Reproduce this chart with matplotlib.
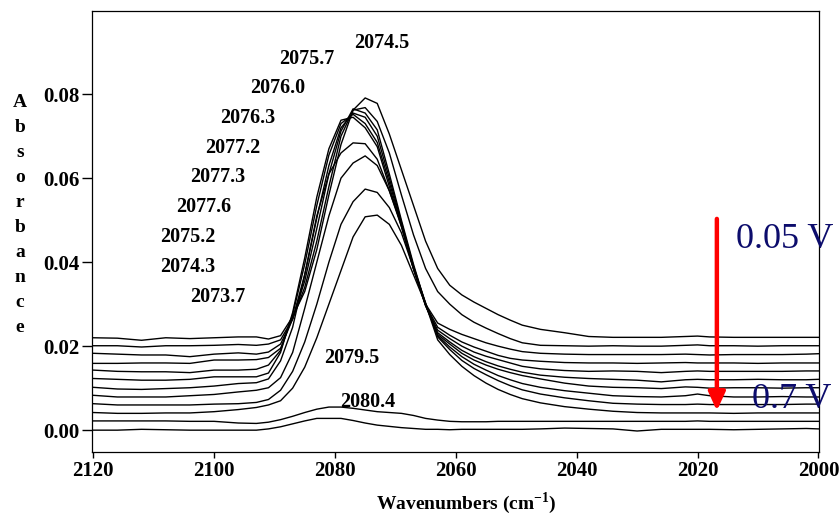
import matplotlib
matplotlib.use("Agg")
import matplotlib.pyplot as plt

# wavenumber grid (cm-1) shared by all spectra
wavenumbers = [2120, 2116, 2112, 2108, 2104, 2100, 2096, 2093, 2091, 2089,
               2087, 2085, 2083, 2081, 2079, 2077, 2075, 2073, 2071, 2069,
               2067, 2065, 2063, 2061, 2059, 2057, 2055, 2053, 2051, 2049,
               2046, 2042, 2038, 2034, 2030, 2026, 2022, 2020, 2018, 2014,
               2010, 2006, 2002, 2000]

# stacked absorbance spectra, 0.05 V (top) down to 0.7 V (bottom)
s_005 = [.0220, .0219, .0214, .0220, .0218, .0220, .0222, .0222, .0217, .0225,
         .0270, .0330, .0430, .0560, .0680, .0762, .0791, .0778, .0705, .0620,
         .0535, .0450, .0385, .0345, .0322, .0305, .0290, .0275, .0262, .0250,
         .0240, .0232, .0223, .0221, .0221, .0221, .0223, .0224, .0222, .0221,
         .0221, .0221, .0221, .0221]
s_2 = [.0201, .0201, .0198, .0201, .0201, .0202, .0204, .0202, .0205, .0215,
       .0265, .0340, .0450, .0580, .0700, .0762, .0768, .0735, .0660, .0560,
       .0465, .0385, .0330, .0300, .0275, .0257, .0243, .0230, .0218, .0208,
       .0202, .0201, .0200, .0201, .0200, .0200, .0202, .0203, .0201, .0201,
       .0200, .0201, .0201, .0201]
s_3 = [.0183, .0181, .0179, .0179, .0175, .0181, .0184, .0181, .0186, .0205,
       .0265, .0355, .0480, .0610, .0712, .0765, .0755, .0715, .0610, .0500,
       .0395, .0300, .0255, .0240, .0228, .0218, .0208, .0200, .0193, .0187,
       .0183, .0181, .0180, .0180, .0180, .0180, .0181, .0180, .0179, .0180,
       .0180, .0180, .0181, .0182]
s_4 = [.0159, .0159, .0160, .0160, .0159, .0167, .0167, .0168, .0173, .0195,
       .0265, .0370, .0505, .0630, .0720, .0755, .0745, .0700, .0600, .0495,
       .0390, .0298, .0245, .0226, .0210, .0198, .0188, .0178, .0171, .0167,
       .0164, .0161, .0160, .0160, .0159, .0160, .0161, .0160, .0160, .0160,
       .0159, .0160, .0160, .0160]
s_5 = [.0143, .0140, .0139, .0139, .0137, .0143, .0143, .0145, .0155, .0190,
       .0275, .0395, .0535, .0655, .0730, .0752, .0730, .0685, .0590, .0490,
       .0385, .0297, .0238, .0218, .0200, .0186, .0176, .0168, .0160, .0152,
       .0146, .0142, .0140, .0141, .0140, .0137, .0140, .0141, .0140, .0140,
       .0140, .0140, .0141, .0141]
s_6 = [.0123, .0121, .0119, .0119, .0121, .0127, .0127, .0127, .0136, .0185,
       .0280, .0410, .0555, .0670, .0738, .0745, .0720, .0675, .0580, .0485,
       .0383, .0296, .0232, .0210, .0190, .0175, .0163, .0153, .0145, .0138,
       .0131, .0126, .0123, .0121, .0119, .0115, .0120, .0121, .0120, .0120,
       .0121, .0120, .0120, .0121]
s_7 = [.0102, .0098, .0097, .0099, .0101, .0105, .0111, .0113, .0122, .0165,
       .0245, .0370, .0510, .0610, .0660, .0684, .0682, .0645, .0570, .0485,
       .0385, .0298, .0228, .0205, .0183, .0167, .0155, .0145, .0137, .0130,
       .0122, .0112, .0105, .0102, .0101, .0099, .0103, .0102, .0100, .0101,
       .0101, .0100, .0101, .0101]
s_8 = [.0083, .0079, .0079, .0079, .0082, .0085, .0091, .0095, .0101, .0125,
       .0185, .0290, .0400, .0510, .0600, .0636, .0653, .0630, .0570, .0490,
       .0390, .0302, .0225, .0198, .0175, .0157, .0143, .0130, .0120, .0111,
       .0102, .0094, .0088, .0082, .0080, .0079, .0082, .0086, .0082, .0079,
       .0079, .0080, .0079, .0079]
s_9 = [.0063, .0060, .0060, .0060, .0060, .0062, .0063, .0066, .0073, .0095,
       .0140, .0210, .0300, .0400, .0490, .0544, .0574, .0566, .0530, .0470,
       .0385, .0303, .0222, .0192, .0166, .0147, .0132, .0118, .0106, .0096,
       .0086, .0077, .0070, .0064, .0062, .0061, .0061, .0062, .0061, .0061,
       .0061, .0061, .0062, .0062]
s_10 = [.0042, .0040, .0040, .0041, .0041, .0044, .0049, .0054, .0060, .0070,
        .0100, .0150, .0220, .0300, .0380, .0460, .0508, .0512, .0490, .0440,
        .0370, .0300, .0215, .0180, .0152, .0130, .0112, .0097, .0085, .0075,
        .0065, .0056, .0050, .0045, .0042, .0041, .0041, .0041, .0041, .0040,
        .0041, .0041, .0041, .0041]
s_11 = [.0022, .0022, .0022, .0022, .0021, .0021, .0017, .0016, .0019, .0025,
        .0033, .0042, .0050, .0055, .0055, .0052, .0048, .0044, .0042, .0040,
        .0035, .0028, .0024, .0021, .0020, .0020, .0020, .0021, .0021, .0021,
        .0021, .0021, .0021, .0021, .0021, .0021, .0021, .0022, .0021, .0021,
        .0021, .0021, .0021, .0021]
s_07 = [.0000, .0000, .0002, .0001, .0000, .0000, .0000, .0000, .0003, .0008,
        .0015, .0022, .0028, .0028, .0028, .0023, .0017, .0012, .0009, .0006,
        .0004, .0002, .0002, .0001, .0002, .0002, .0002, .0002, .0002, .0002,
        .0003, .0005, .0004, .0003, -.0002, .0002, .0002, .0002, .0002, .0001,
        .0002, .0003, .0004, .0003]
spectra = [s_005, s_2, s_3, s_4, s_5, s_6, s_7, s_8, s_9, s_10, s_11, s_07]

peak_labels = ["2074.5", "2075.7", "2076.0", "2076.3", "2077.2", "2077.3",
               "2077.6", "2075.2", "2074.3", "2073.7", "2079.5", "2080.4"]
# label anchor points (wavenumber, absorbance)
label_x = [2072.2, 2084.6, 2089.4, 2094.4, 2096.9, 2099.4, 2101.8, 2104.3,
           2104.3, 2099.4, 2077.2, 2074.5]
label_y = [0.0921, 0.0883, 0.0814, 0.0743, 0.0671, 0.0602, 0.0531, 0.0460,
           0.0388, 0.0317, 0.0171, 0.0067]

y_ticks = [0.00, 0.02, 0.04, 0.06, 0.08]
x_ticks = [2120, 2100, 2080, 2060, 2040, 2020, 2000]

serif = ["Liberation Serif", "DejaVu Serif"]
plt.rcParams["mathtext.fontset"] = "custom"
plt.rcParams["mathtext.rm"] = "Liberation Serif"
plt.rcParams["mathtext.bf"] = "Liberation Serif:bold"

fig = plt.figure(figsize=(8.39, 5.16), dpi=100)
ax = fig.add_axes([92 / 839, 64 / 516, 727 / 839, 441 / 516])

for s in spectra:
    ax.plot(wavenumbers, s, color="black", lw=1.0)

for txt, lx, ly in zip(peak_labels, label_x, label_y):
    ax.text(lx, ly, txt, ha="center", va="center", fontsize=14.5,
            fontweight="bold", family=serif)

ax.set_xlim(2120.2, 1999.9)
ax.set_ylim(-0.0052, 0.0998)
ax.set_xticks(x_ticks)
ax.set_yticks(y_ticks)
ax.set_xticklabels([str(t) for t in x_ticks])
ax.set_yticklabels(["%.2f" % t for t in y_ticks])
ax.tick_params(axis="y", direction="out", length=7, width=1, pad=2)
ax.tick_params(axis="x", direction="out", length=4, width=1, pad=2.5)
for lab in ax.get_xticklabels() + ax.get_yticklabels():
    lab.set_family(serif)
    lab.set_fontweight("bold")
    lab.set_fontsize(15)
for sp in ax.spines.values():
    sp.set_linewidth(0.9)

# potential arrow and annotations
ax.annotate("", xy=(2016.8, 0.0046), xytext=(2016.8, 0.0503),
            arrowprops=dict(arrowstyle="-|>,head_width=0.5,head_length=1.1",
                            color="red", lw=3.2, shrinkA=0, shrinkB=0))
fig.text(736 / 839, 1 - 248 / 516, "0.05 V", fontsize=26, color="#0c0c6c",
         family=serif, ha="left", va="baseline")
fig.text(752 / 839, 1 - 408 / 516, "0.7 V", fontsize=26, color="#0c0c6c",
         family=serif, ha="left", va="baseline")

ax.set_xlabel("Wavenumbers (cm$^{\\mathbf{-1}}$)", fontsize=14,
              fontweight="bold", family=serif)
ax.xaxis.set_label_coords((466 - 92) / 727, -0.117)
ax.xaxis.label.set_va("center")

# vertical stacked y label
for i, ch in enumerate("Absorbance"):
    fig.text(20 / 839, 1 - (107 + 25 * i) / 516, ch, fontsize=14,
             fontweight="bold", family=serif, ha="center", va="baseline")

fig.savefig("out.png", dpi=100)
